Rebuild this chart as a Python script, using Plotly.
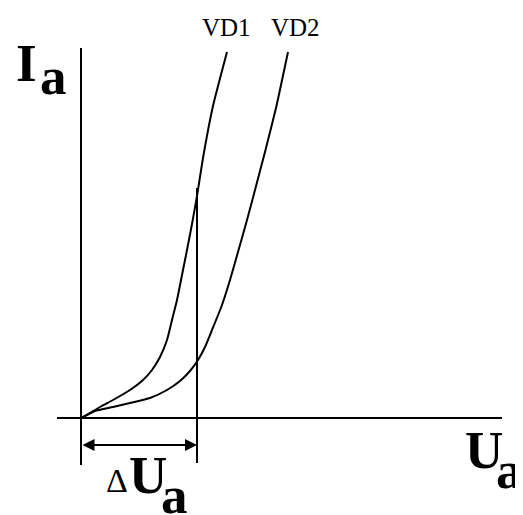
import plotly.graph_objects as go

# I-V curves of two diodes, arbitrary units (1 unit = 10 px in the reference)
vd1_u = [0, 0.6, 1.9, 3.2, 4.9, 6.2, 7.1, 7.9, 8.6, 9.1, 9.6, 10.1, 10.6, 11.1, 11.6, 12.2, 13.2, 14.6]
vd1_i = [0, 0.3, 1.1, 1.8, 2.8, 3.8, 4.8, 6.1, 7.8, 9.8, 11.8, 14.3, 16.8, 19.4, 22.2, 26.0, 31.2, 36.6]

vd2_u = [0, 1.4, 3.2, 4.9, 6.9, 8.6, 9.9, 10.9, 11.7, 12.4, 13.1, 14.1, 14.9, 15.7, 16.6, 17.4, 18.4, 19.5, 20.7]
vd2_i = [0, 0.7, 1.1, 1.5, 2.0, 2.8, 3.7, 4.7, 5.8, 7.1, 8.8, 11.3, 13.8, 16.6, 19.8, 22.8, 26.6, 31.0, 36.6]

curve_names = ["VD1", "VD2"]
delta_u = 11.6          # width of the marked voltage interval
axis_u = [-2.4, 42.1]   # extent of the Ua axis
axis_i = [-4.7, 37.0]   # extent of the Ia axis

SERIF = "Liberation Serif, Times New Roman, serif"

fig = go.Figure()
for name, u, i in [(curve_names[0], vd1_u, vd1_i), (curve_names[1], vd2_u, vd2_i)]:
    fig.add_trace(go.Scatter(x=u, y=i, mode="lines", name=name,
                             line=dict(color="black", width=2, shape="spline", smoothing=0.5),
                             hoverinfo="skip", showlegend=False))

line_style = dict(color="black", width=2)
# axes
fig.add_shape(type="line", x0=axis_u[0], x1=axis_u[1], y0=0, y1=0, line=line_style)
fig.add_shape(type="line", x0=0, x1=0, y0=axis_i[0], y1=axis_i[1], line=line_style)
# vertical marker at delta_u
fig.add_shape(type="line", x0=delta_u, x1=delta_u, y0=-4.5, y1=23.0, line=line_style)
# double arrow for delta Ua
fig.add_annotation(x=delta_u, y=-2.7, ax=0, ay=-2.7, xref="x", yref="y", axref="x", ayref="y",
                   text="", showarrow=True, arrowside="end+start", arrowhead=2,
                   arrowsize=1.2, arrowwidth=2, arrowcolor="black")

big = dict(family=SERIF, size=53, color="black", weight="bold")
small = dict(family=SERIF, size=25, color="black")
labels = [
    ("I", -5.5, 35.55, big),
    ("a", -2.8, 34.25, big),
    ("U", 40.25, -3.15, big),
    ("a", 42.8, -5.15, big),
    ("Δ", 3.55, -6.2, dict(family=SERIF, size=34, color="black")),
    ("U", 6.65, -5.65, big),
    ("a", 9.3, -7.65, big),
    (curve_names[0], 14.5, 39.05, small),
    (curve_names[1], 21.45, 39.05, small),
]
for txt, x, y, font in labels:
    fig.add_annotation(x=x, y=y, text=txt, showarrow=False, font=font,
                       xanchor="center", yanchor="middle")

# page body has an 8px margin, so the figure is 8px smaller and the ranges shifted
fig.update_layout(
    width=515, height=507,
    margin=dict(l=0, r=0, t=0, b=0),
    paper_bgcolor="white", plot_bgcolor="white",
    xaxis=dict(range=[-7.3, 44.2], visible=False, fixedrange=True),
    yaxis=dict(range=[-9.7, 41.0], visible=False, fixedrange=True),
)

fig.write_html("out.html")
